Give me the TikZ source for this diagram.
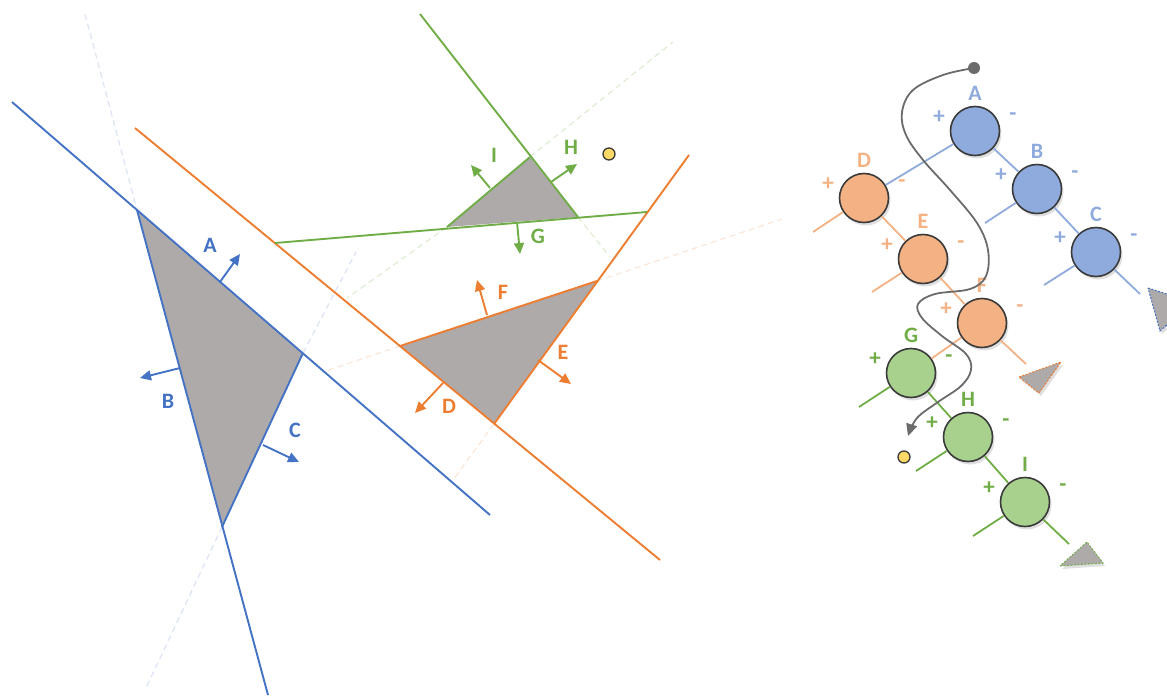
\documentclass[tikz,border=0pt]{standalone}
\usepackage{fontspec}
\setmainfont{Carlito}
\usepackage{xcolor}
\usetikzlibrary{arrows.meta,shadows}
\definecolor{bspblue}{HTML}{4472C4}
\definecolor{bsporange}{HTML}{ED7D31}
\definecolor{bspgreen}{HTML}{70AD47}
\definecolor{lightblue}{HTML}{8FAADC}
\definecolor{lightorange}{HTML}{F4B183}
\definecolor{lightgreen}{HTML}{A9D18E}
\definecolor{cellgray}{HTML}{AEAAAA}
\definecolor{pathgray}{HTML}{6B6B6B}
\definecolor{dotyellow}{HTML}{FFD966}
\definecolor{rimgray}{HTML}{3A3A3A}

\begin{document}
\begin{tikzpicture}[x=1pt,y=-1pt,
  plane/.style={line width=1.9pt},
  ghost/.style={line width=1.3pt,dash pattern=on 6pt off 4pt},
  normal/.style={line width=1.9pt,-{Triangle[length=11pt,width=10pt]}},
  lbl/.style={font=\fontsize{22}{22}\selectfont\bfseries,inner sep=0pt},
  sign/.style={font=\fontsize{23}{23}\selectfont\bfseries,inner sep=0pt},
  cell/.style={fill=cellgray},
  leafcell/.style={fill=cellgray,line width=1pt,dash pattern=on 2pt off 1.5pt,
    drop shadow={opacity=0.25,shadow xshift=2pt,shadow yshift=-3pt}},
  bspnode/.style={circle,draw=rimgray,line width=1.6pt,minimum size=49pt,inner sep=0pt,
    drop shadow={opacity=0.25,shadow xshift=2pt,shadow yshift=-3pt}},
  treeedge/.style={line width=1.8pt},
  spot/.style={circle,fill=dotyellow,draw=rimgray,line width=1.3pt,minimum size=12pt,inner sep=0pt}]
  \useasboundingbox (0,0) rectangle (1167,698);

  % ---- scene: split planes and convex cells ----
  \coordinate (a1) at (137,210);
  \coordinate (a2) at (303,353);
  \coordinate (a3) at (222,527);
  \coordinate (b1) at (400,346);
  \coordinate (b2) at (597,281);
  \coordinate (b3) at (494,424);
  \coordinate (c1) at (447,227);
  \coordinate (c2) at (530,157);
  \coordinate (c3) at (578,217);

  % extensions of the planes
  \draw[ghost,bspblue!18] (85,14) -- (a1);
  \draw[ghost,bspblue!18] (a3) -- (145,690);
  \draw[ghost,bspblue!18] (a2) -- (356,252);
  \draw[ghost,bsporange!18] (b1) -- (323,372);
  \draw[ghost,bsporange!18] (b2) -- (782,219);
  \draw[ghost,bsporange!18] (b3) -- (453,480);
  \draw[ghost,bspgreen!22] (c3) -- (610,257);
  \draw[ghost,bspgreen!22] (c2) -- (673,42);
  \draw[ghost,bspgreen!22] (c1) -- (347,298);

  \fill[cell] (a1) -- (a2) -- (a3) -- cycle;
  \fill[cell] (b1) -- (b2) -- (b3) -- cycle;
  \fill[cell] (c1) -- (c2) -- (c3) -- cycle;

  \draw[plane,bspblue] (12,102) -- (490,515);
  \draw[plane,bspblue] (a1) -- (268,695);
  \draw[plane,bspblue] (a2) -- (a3);
  \draw[plane,bsporange] (135,128) -- (660,560);
  \draw[plane,bsporange] (b3) -- (689,155);
  \draw[plane,bsporange] (b1) -- (b2);
  \draw[plane,bspgreen] (420,14) -- (c3);
  \draw[plane,bspgreen] (275,243) -- (647,212);
  \draw[plane,bspgreen] (c1) -- (c2);

  % normals
  \draw[normal,bspblue] (220,282) -- (240,254);
  \draw[normal,bspblue] (180,368) -- (140,378);
  \draw[normal,bspblue] (263,445) -- (299,462);
  \draw[normal,bsporange] (443,383) -- (415,413);
  \draw[normal,bsporange] (538,360) -- (571,384);
  \draw[normal,bsporange] (487,315) -- (477,280);
  \draw[normal,bspgreen] (517,222) -- (520,254);
  \draw[normal,bspgreen] (551,182) -- (577,164);
  \draw[normal,bspgreen] (490,188) -- (471,165);

  \node[lbl,text=bspblue] (labA) at (210,245) {A};
  \node[lbl,text=bspblue] (labB) at (168,401) {B};
  \node[lbl,text=bspblue] (labC) at (295,430) {C};
  \node[lbl,text=bsporange] (labD) at (449,406) {D};
  \node[lbl,text=bsporange] (labE) at (563,352) {E};
  \node[lbl,text=bsporange] (labF) at (503,292) {F};
  \node[lbl,text=bspgreen] (labG) at (538,236) {G};
  \node[lbl,text=bspgreen] (labH) at (571,147) {H};
  \node[lbl,text=bspgreen] (labI) at (494,155) {I};

  \node[spot] (eye) at (609,154) {};

  % ---- tree ----
  \foreach \n/\x/\y/\f/\t in {A/975/131/lightblue/lightblue,
      B/1037/189/lightblue/lightblue, C/1096/252/lightblue/lightblue,
      D/864/198/lightorange/lightorange, E/923/259/lightorange/lightorange,
      F/982/323/lightorange/lightorange, G/911/373/lightgreen/bspgreen,
      H/968/437/lightgreen/bspgreen, I/1025/502/lightgreen/bspgreen} {
    \node[bspnode,fill=\f] (n\n) at (\x,\y) {};
    \node[lbl,text=\t] (t\n) at (\x,\y-38) {\n};
    \node[sign,text=\t] (p\n) at (\x-36,\y-14) {+};
    \node[sign,text=\t] (m\n) at (\x+38,\y-14) {-};
  }

  \coordinate (sB) at (985,223);
  \coordinate (sCl) at (1044,285);
  \coordinate (sCr) at (1140,294);
  \coordinate (sD) at (813,232);
  \coordinate (sE) at (872,292);
  \coordinate (sF) at (1026,364);
  \coordinate (sG) at (859,407);
  \coordinate (sH) at (916,471);
  \coordinate (sIl) at (973,536);
  \coordinate (sIr) at (1069,544);

  \draw[treeedge,lightblue] (nA) -- (nD);
  \draw[treeedge,lightblue] (nA) -- (nB);
  \draw[treeedge,lightblue] (nB) -- (sB);
  \draw[treeedge,lightblue] (nB) -- (nC);
  \draw[treeedge,lightblue] (nC) -- (sCl);
  \draw[treeedge,lightblue] (nC) -- (sCr);
  \draw[treeedge,lightorange] (nD) -- (sD);
  \draw[treeedge,lightorange] (nD) -- (nE);
  \draw[treeedge,lightorange] (nE) -- (sE);
  \draw[treeedge,lightorange] (nE) -- (nF);
  \draw[treeedge,lightorange] (nF) -- (nG);
  \draw[treeedge,lightorange] (nF) -- (sF);
  \draw[treeedge,bspgreen] (nG) -- (sG);
  \draw[treeedge,bspgreen] (nG) -- (nH);
  \draw[treeedge,bspgreen] (nH) -- (sH);
  \draw[treeedge,bspgreen] (nH) -- (nI);
  \draw[treeedge,bspgreen] (nI) -- (sIl);
  \draw[treeedge,bspgreen] (nI) -- (sIr);

  \filldraw[leafcell,draw=bspblue] (1148,288) -- (1192,302) -- (1160,331) -- cycle;
  \filldraw[leafcell,draw=bsporange] (1019,377) -- (1061,362) -- (1039,393) -- cycle;
  \filldraw[leafcell,draw=bspgreen] (1060,566) -- (1103,563) -- (1087,542) -- cycle;

  % traversal
  \node[circle,fill=pathgray,minimum size=12pt,inner sep=0pt] (start) at (974,68) {};
  \draw[pathgray,line width=1.8pt,-{Triangle[length=12pt,width=11pt]}]
    plot[smooth,tension=0.6] coordinates {(start) (943,75) (913,90) (902,112)
      (906,135) (923,160) (950,190) (977,223) (988,250) (986,276) (970,289)
      (935,294) (918,304) (922,318) (942,336) (966,354) (971,370) (961,386)
      (938,402) (917,418) (908,436)};
  \node[spot] (target) at (904,457) {};
\end{tikzpicture}
\end{document}
